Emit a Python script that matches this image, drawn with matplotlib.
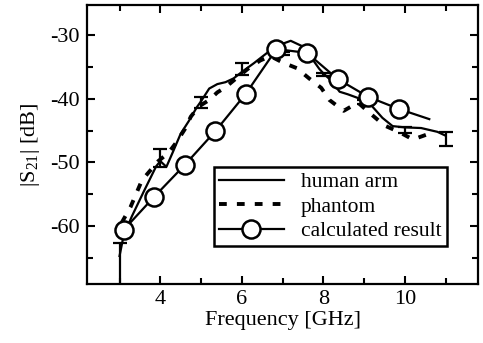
import numpy as np
import matplotlib
matplotlib.use("Agg")
import matplotlib.pyplot as plt
from matplotlib.ticker import MultipleLocator

plt.rcParams['font.family'] = ['Liberation Serif', 'DejaVu Serif']
plt.rcParams['mathtext.fontset'] = 'custom'
plt.rcParams['mathtext.rm'] = 'Liberation Serif'
plt.rcParams['axes.unicode_minus'] = False

# medición en brazo humano
arm_f = [3.0, 3.1, 3.3, 3.6, 3.9, 4.0, 4.15, 4.3, 4.5, 4.7, 4.9, 5.0, 5.2, 5.4, 5.6,
         5.8, 6.0, 6.3, 6.6, 6.9, 7.2, 7.5, 7.7, 7.9, 8.0, 8.2, 8.4, 8.6, 8.9, 9.2,
         9.45, 9.7, 10.0, 10.4, 10.8, 11.0]
arm_db = [-64.7, -61.5, -58.5, -54.5, -50.6, -49.8, -50.7, -48.5, -45.5, -43.5, -41.3,
          -40.4, -38.4, -37.7, -37.4, -36.8, -35.8, -34.4, -32.9, -31.6, -30.9, -31.8,
          -33.5, -35.3, -36.0, -37.2, -38.9, -39.3, -40.0, -41.2, -43.0, -44.3, -44.5,
          -44.6, -45.2, -45.8]

# fantoma
ph_f = [3.05, 3.27, 3.55, 3.75, 3.95, 4.2, 4.4, 4.6, 4.75, 4.95, 5.2, 5.4, 5.6, 5.9,
        6.15, 6.45, 6.7, 7.0, 7.35, 7.65, 7.95, 8.15, 8.5, 8.85, 9.15, 9.5, 9.85,
        10.2, 10.55, 10.75]
ph_db = [-59.5, -57.0, -52.8, -51.3, -49.8, -48.5, -46.8, -44.8, -42.8, -41.2, -40.2,
         -39.0, -38.2, -36.6, -35.3, -34.0, -33.3, -34.3, -35.2, -36.8, -38.3, -40.2,
         -41.9, -40.6, -42.3, -44.2, -45.2, -46.4, -45.6, -45.6]

# resultado calculado
calc_f = [3.1, 3.85, 4.6, 5.35, 6.1, 6.85, 7.6, 8.35, 9.1, 9.85, 10.6]
calc_db = [-60.6, -55.4, -50.4, -45.1, -39.2, -32.2, -32.8, -36.9, -39.7, -41.6, -43.2]

# barras de error (frecuencia, limite inferior, limite superior)
err_f = [3, 4, 5, 6, 7, 8, 9, 10, 11]
err_lo = [-72.0, -50.8, -41.5, -36.3, -33.2, -36.4, -40.8, -45.4, -47.4]
err_hi = [-62.6, -47.9, -39.7, -34.4, -32.7, -35.9, -40.2, -44.4, -45.3]

fig = plt.figure(figsize=(4.83, 3.43), dpi=100)
ax = fig.add_axes([0.180, 0.172, 0.810, 0.813])

err_f = np.array(err_f)
err_lo = np.array(err_lo)
err_hi = np.array(err_hi)
mid = (err_lo + err_hi) / 2
ax.errorbar(err_f, mid, yerr=[mid - err_lo, err_hi - mid], fmt='none',
            ecolor='black', elinewidth=1.6, capsize=4.7, capthick=1.6)

ax.plot(arm_f, arm_db, color='black', lw=1.6, label='human arm')
ax.plot(ph_f, ph_db, color='black', lw=2.8, linestyle=(0, (2.0, 2.6)), label='phantom')
ax.plot(calc_f, calc_db, color='black', lw=1.6, marker='o', markersize=13,
        markerfacecolor='white', markeredgecolor='black', markeredgewidth=1.8,
        markevery=list(range(10)), label='calculated result')

ax.set_xlim(2.2, 11.8)
ax.set_ylim(-69.1, -25.3)
ax.xaxis.set_major_locator(MultipleLocator(2))
ax.xaxis.set_minor_locator(MultipleLocator(1))
ax.yaxis.set_major_locator(MultipleLocator(10))
ax.yaxis.set_minor_locator(MultipleLocator(5))
ax.tick_params(which='both', direction='in', top=True, right=True, width=1.5,
               labelsize=16)
ax.tick_params(which='major', length=6)
ax.tick_params(which='minor', length=4)
ax.tick_params(axis='x', pad=4)
ax.tick_params(axis='y', pad=5)
for s in ax.spines.values():
    s.set_linewidth(1.6)

ax.set_xlabel('Frequency [GHz]', fontsize=16, labelpad=2)
ax.set_ylabel(r'|S$_{21}$| [dB]', fontsize=16, labelpad=6)

leg = ax.legend(loc='upper right', bbox_to_anchor=(0.92, 0.42), borderaxespad=0,
                fontsize=15.5, handlelength=3.0, handletextpad=0.8, labelspacing=0.2,
                borderpad=0.25, fancybox=False, edgecolor='black', framealpha=1)
leg.get_frame().set_linewidth(1.8)

fig.savefig('out.png', dpi=100)
